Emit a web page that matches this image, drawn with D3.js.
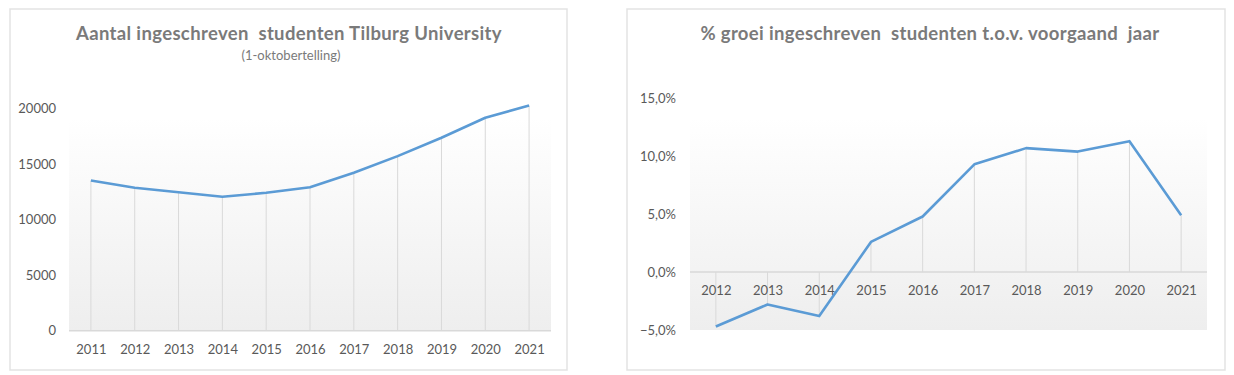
<!DOCTYPE html>
<html>
<head>
<meta charset="utf-8">
<script src="https://cdn.jsdelivr.net/npm/d3@7"></script>
<style>
  body { margin: 0; background: #fff; }
  text { font-family: Lato, "Open Sans", sans-serif; }
</style>
</head>
<body>
<div id="main"></div>
<script>
// --- data
const years = ['2011', '2012', '2013', '2014', '2015', '2016', '2017', '2018', '2019', '2020', '2021'];
const students = [13500, 12850, 12450, 12050, 12400, 12900, 14200, 15700, 17350, 19150, 20250];
const studentTicks = [0, 5000, 10000, 15000, 20000];

const growthYears = ['2012', '2013', '2014', '2015', '2016', '2017', '2018', '2019', '2020', '2021'];
const growth = [-4.7, -2.8, -3.8, 2.6, 4.8, 9.3, 10.7, 10.4, 11.3, 4.9];
const growthTicks = [-5, 0, 5, 10, 15];

const colors = { line: '#5b9bd5', grid: '#d9d9d9', text: '#595959', title: '#7a7a7a', border: '#e3e3e3' };

const svg = d3.select('#main')
  .append('svg')
  .attr('width', 1234)
  .attr('height', 375);

const defs = svg.append('defs');
const grad = defs.append('linearGradient')
  .attr('id', 'plotFill')
  .attr('x1', 0).attr('y1', 0).attr('x2', 0).attr('y2', 1);
grad.append('stop').attr('offset', '0%').attr('stop-color', '#ffffff');
grad.append('stop').attr('offset', '100%').attr('stop-color', '#eeeeee');

// chart frames
svg.append('rect')
  .attr('x', 10).attr('y', 9).attr('width', 557).attr('height', 361)
  .attr('fill', '#fff').attr('stroke', colors.border).attr('stroke-width', 1.5);
svg.append('rect')
  .attr('x', 627).attr('y', 9).attr('width', 598).attr('height', 361)
  .attr('fill', '#fff').attr('stroke', colors.border).attr('stroke-width', 1.5);

// ---------- left chart: number of students
const xL = d3.scalePoint().domain(years).range([69, 551]).padding(0.5);
const yL = d3.scaleLinear().domain([0, 20000]).range([330.7, 108.3]);

svg.append('rect')
  .attr('x', 69).attr('y', 118).attr('width', 482).attr('height', yL(0) - 118)
  .attr('fill', 'url(#plotFill)');

svg.append('text')
  .attr('x', 289).attr('y', 40)
  .attr('text-anchor', 'middle')
  .attr('font-size', 18.5).attr('font-weight', 'bold')
  .attr('letter-spacing', 0.35)
  .attr('fill', colors.title)
  .attr('xml:space', 'preserve')
  .text('Aantal ingeschreven  studenten Tilburg University');
svg.append('text')
  .attr('x', 291).attr('y', 60)
  .attr('text-anchor', 'middle')
  .attr('font-size', 13)
  .attr('fill', colors.title)
  .text('(1-oktobertelling)');

// drop lines
svg.append('g')
  .selectAll('line')
  .data(years)
  .join('line')
  .attr('x1', d => xL(d)).attr('x2', d => xL(d))
  .attr('y1', (d, i) => yL(students[i])).attr('y2', yL(0))
  .attr('stroke', colors.grid).attr('stroke-width', 1);

// axes
const axL = svg.append('g')
  .attr('transform', `translate(0, ${yL(0)})`)
  .call(d3.axisBottom(xL).tickSize(0).tickPadding(14));
axL.select('.domain').attr('stroke', colors.grid).attr('stroke-width', 1.5)
  .attr('d', `M69,0H551`);
axL.selectAll('text').attr('font-size', 13).attr('fill', colors.text)
  .attr('font-family', 'Lato, sans-serif');

const ayL = svg.append('g')
  .attr('transform', 'translate(56, 0)')
  .call(d3.axisLeft(yL).tickValues(studentTicks).tickSize(0).tickPadding(0).tickFormat(d3.format('d')));
ayL.select('.domain').remove();
ayL.selectAll('text').attr('font-size', 13).attr('fill', colors.text)
  .attr('font-family', 'Lato, sans-serif');

svg.append('path')
  .datum(students)
  .attr('fill', 'none')
  .attr('stroke', colors.line)
  .attr('stroke-width', 2.6)
  .attr('stroke-linejoin', 'round')
  .attr('d', d3.line().x((d, i) => xL(years[i])).y(d => yL(d)));

// ---------- right chart: growth %
const xR = d3.scalePoint().domain(growthYears).range([690, 1207]).padding(0.5);
const yR = d3.scaleLinear().domain([-5, 15]).range([330, 98.3]);

svg.append('rect')
  .attr('x', 690).attr('y', 118).attr('width', 517).attr('height', yR(-5) - 118)
  .attr('fill', 'url(#plotFill)');

svg.append('text')
  .attr('x', 930).attr('y', 40)
  .attr('text-anchor', 'middle')
  .attr('font-size', 18.5).attr('font-weight', 'bold')
  .attr('letter-spacing', 0.35)
  .attr('fill', colors.title)
  .attr('xml:space', 'preserve')
  .text('% groei ingeschreven  studenten t.o.v. voorgaand  jaar');

svg.append('g')
  .selectAll('line')
  .data(growthYears)
  .join('line')
  .attr('x1', d => xR(d)).attr('x2', d => xR(d))
  .attr('y1', (d, i) => yR(growth[i])).attr('y2', yR(0))
  .attr('stroke', colors.grid).attr('stroke-width', 1);

const axR = svg.append('g')
  .attr('transform', `translate(0, ${yR(0)})`)
  .call(d3.axisBottom(xR).tickSize(0).tickPadding(14));
axR.select('.domain').attr('stroke', colors.grid).attr('stroke-width', 1.5)
  .attr('d', `M690,0H1207`);
axR.selectAll('text').attr('font-size', 13).attr('fill', colors.text)
  .attr('font-family', 'Lato, sans-serif');

const pctFormat = d => d3.format('.1f')(d).replace('.', ',') + '%';
const ayR = svg.append('g')
  .attr('transform', 'translate(676, 0)')
  .call(d3.axisLeft(yR).tickValues(growthTicks).tickSize(0).tickPadding(0).tickFormat(pctFormat));
ayR.select('.domain').remove();
ayR.selectAll('text').attr('font-size', 13).attr('fill', colors.text)
  .attr('font-family', 'Lato, sans-serif');

svg.append('path')
  .datum(growth)
  .attr('fill', 'none')
  .attr('stroke', colors.line)
  .attr('stroke-width', 2.6)
  .attr('stroke-linejoin', 'round')
  .attr('d', d3.line().x((d, i) => xR(growthYears[i])).y(d => yR(d)));
</script>
</body>
</html>
